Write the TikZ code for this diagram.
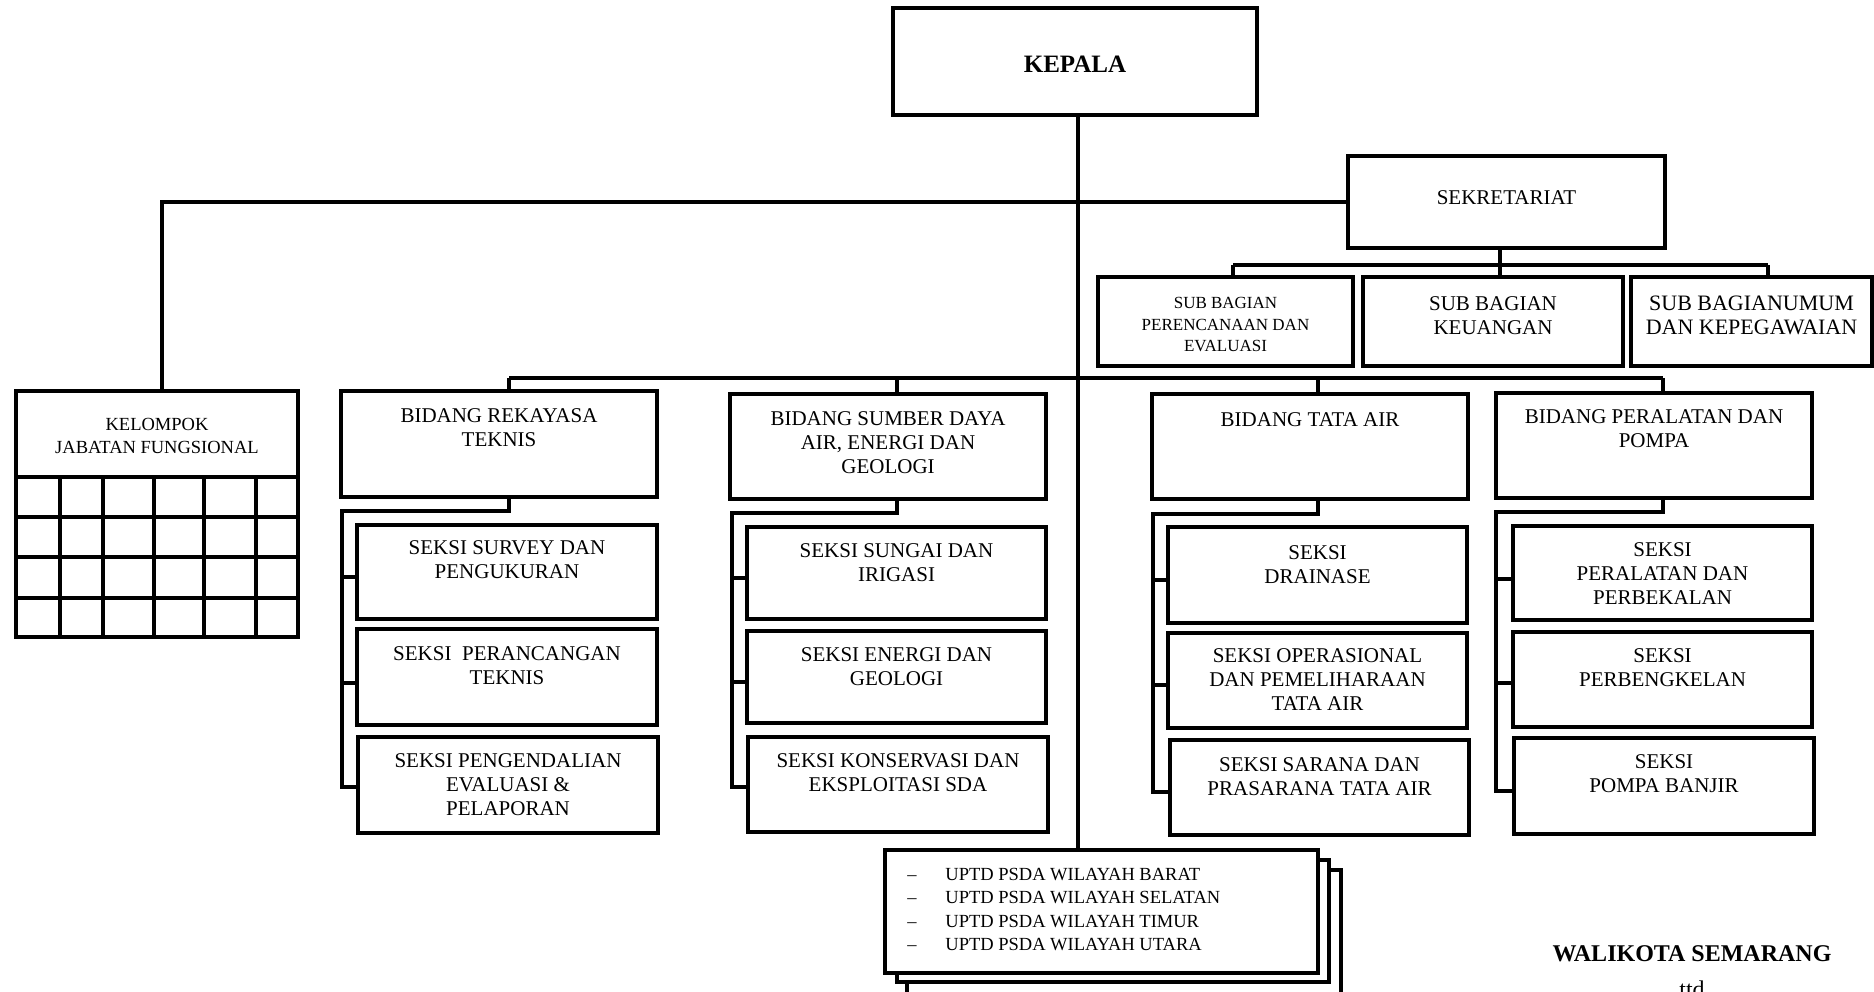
\documentclass[tikz,border=0pt]{standalone}
\usepackage{fontspec}
\setmainfont{Liberation Serif}
\newcommand\orgbox[8]{%
  \node[boxs, anchor=north west, minimum width={(#4-#2)*0.5pt}, minimum height={(#5-#3)*0.5pt}] (#1) at (#2,#3) {};
  \node[lbl, #7] (#1-t) at (#1.north |- 0,#6) {#8};}
\begin{document}
\begin{tikzpicture}[x=0.5pt,y=-0.5pt,
  boxs/.style={draw, line width=1.7pt, rectangle, inner sep=0pt, outer sep=0pt, fill=white},
  conn/.style={line width=1.7pt},
  lbl/.style={anchor=north, align=center, inner sep=0pt, font=\fontsize{10.5}{12}\selectfont},
  small/.style={font=\fontsize{8.5}{10.75}\selectfont},
  mid/.style={font=\fontsize{9.25}{11.5}\selectfont},
  big/.style={font=\fontsize{11}{12}\selectfont},
  head/.style={font=\bfseries\fontsize{12.5}{15}\selectfont},
]
\useasboundingbox (0,0) rectangle (1874,991);
\clip (0,0) rectangle (1874,991);

% top level
\orgbox{kepala}{893}{8}{1257}{115}{56}{head}{KEPALA}
\orgbox{sek}{1348}{156}{1665}{248}{190}{}{SEKRETARIAT}
\orgbox{sp}{1098}{277}{1353}{366}{297}{small}{SUB BAGIAN\\PERENCANAAN DAN\\EVALUASI}
\orgbox{sk}{1363}{277}{1623}{366}{296}{}{SUB BAGIAN\\KEUANGAN}
\orgbox{su}{1631}{277}{1872}{366}{296}{big}{SUB BAGIANUMUM\\DAN KEPEGAWAIAN}

% kelompok jabatan fungsional
\orgbox{kel}{16}{391}{298}{637}{418}{mid}{KELOMPOK\\JABATAN FUNGSIONAL}
\foreach \yy in {477,517,557,598} \draw[conn] (16,\yy) -- (298,\yy);
\foreach \xx in {60,103,154,204,256} \draw[conn] (\xx,477) -- (\xx,637);

% bidang
\orgbox{b1}{341}{391}{657}{497}{408}{}{BIDANG REKAYASA\\TEKNIS}
\orgbox{b2}{730}{394}{1046}{499}{411}{}{BIDANG SUMBER DAYA\\AIR, ENERGI DAN\\GEOLOGI}
\orgbox{b3}{1152}{394}{1468}{499}{412}{}{BIDANG TATA AIR}
\orgbox{b4}{1496}{393}{1812}{498}{409}{}{BIDANG PERALATAN DAN\\POMPA}

% seksi
\orgbox{s11}{357}{525}{657}{619}{540}{}{SEKSI SURVEY DAN\\PENGUKURAN}
\orgbox{s12}{357}{629}{657}{725}{646}{}{SEKSI\ \ PERANCANGAN\\TEKNIS}
\orgbox{s13}{358}{737}{658}{833}{753}{}{SEKSI PENGENDALIAN\\EVALUASI \&\\PELAPORAN}
\orgbox{s21}{747}{527}{1046}{619}{543}{}{SEKSI SUNGAI DAN\\IRIGASI}
\orgbox{s22}{747}{631}{1046}{723}{647}{}{SEKSI ENERGI DAN\\GEOLOGI}
\orgbox{s23}{748}{737}{1048}{832}{753}{}{SEKSI KONSERVASI DAN\\EKSPLOITASI SDA}
\orgbox{s31}{1168}{527}{1467}{623}{545}{}{SEKSI\\DRAINASE}
\orgbox{s32}{1168}{633}{1467}{728}{648}{}{SEKSI OPERASIONAL\\DAN PEMELIHARAAN\\TATA AIR}
\orgbox{s33}{1170}{740}{1469}{835}{757}{}{SEKSI SARANA DAN\\PRASARANA TATA AIR}
\orgbox{s41}{1513}{526}{1812}{620}{542}{}{SEKSI\\PERALATAN DAN\\PERBEKALAN}
\orgbox{s42}{1513}{632}{1812}{727}{648}{}{SEKSI\\PERBENGKELAN}
\orgbox{s43}{1514}{738}{1814}{834}{754}{}{SEKSI\\POMPA BANJIR}

% UPTD stacked boxes
\node[boxs, anchor=north west, minimum width={434*0.5pt}, minimum height={140*0.5pt}] (u3) at (907,870) {};
\node[boxs, anchor=north west, minimum width={432*0.5pt}, minimum height={122*0.5pt}] (u2) at (897,860) {};
\node[boxs, anchor=north west, minimum width={433*0.5pt}, minimum height={123*0.5pt}] (uptd) at (885,850) {};
\node[anchor=north west, align=left, inner sep=0pt, font=\fontsize{9.25}{11.65}\selectfont] (uptd-t) at (907,868)
  {\makebox[19pt][l]{–}UPTD PSDA WILAYAH BARAT\\
   \makebox[19pt][l]{–}UPTD PSDA WILAYAH SELATAN\\
   \makebox[19pt][l]{–}UPTD PSDA WILAYAH TIMUR\\
   \makebox[19pt][l]{–}UPTD PSDA WILAYAH UTARA};

% connectors
\coordinate (mv) at (1078,115);
\draw[conn] (mv) -- (mv |- uptd.north);
\coordinate (kj) at (162,202);
\draw[conn] (kel.north -| kj) -- (kj) -- (sek.west);

\coordinate (bl) at (509,378);
\coordinate (br) at (1663,378);
\draw[conn] (bl) -- (br);
\draw[conn] (bl) -- (bl |- b1.north);
\coordinate (bb2) at (897,378);
\coordinate (bb3) at (1318,378);
\draw[conn] (bb2) -- (bb2 |- b2.north);
\draw[conn] (bb3) -- (bb3 |- b3.north);
\draw[conn] (br) -- (br |- b4.north);

\coordinate (sj) at (1500,265);
\coordinate (sl) at (1233,265);
\coordinate (sr) at (1768,265);
\draw[conn] (sek.south -| sj) -- (sk.north -| sj);
\draw[conn] (sl) -- (sr);
\draw[conn] (sl) -- (sl |- sp.north);
\draw[conn] (sr) -- (sr |- su.north);

% group connectors
\coordinate (g1j) at (509,511); \coordinate (g1l) at (342,511);
\coordinate (g1a) at (342,577); \coordinate (g1b) at (342,683); \coordinate (g1c) at (342,787);
\draw[conn] (b1.south -| g1j) -- (g1j) -- (g1l) -- (g1c) -- (g1c -| s13.west);
\draw[conn] (g1a) -- (g1a -| s11.west);
\draw[conn] (g1b) -- (g1b -| s12.west);

\coordinate (g2j) at (897,513); \coordinate (g2l) at (732,513);
\coordinate (g2a) at (732,578); \coordinate (g2b) at (732,682); \coordinate (g2c) at (732,787);
\draw[conn] (b2.south -| g2j) -- (g2j) -- (g2l) -- (g2c) -- (g2c -| s23.west);
\draw[conn] (g2a) -- (g2a -| s21.west);
\draw[conn] (g2b) -- (g2b -| s22.west);

\coordinate (g3j) at (1318,514); \coordinate (g3l) at (1153,514);
\coordinate (g3a) at (1153,580); \coordinate (g3b) at (1153,685); \coordinate (g3c) at (1153,792);
\draw[conn] (b3.south -| g3j) -- (g3j) -- (g3l) -- (g3c) -- (g3c -| s33.west);
\draw[conn] (g3a) -- (g3a -| s31.west);
\draw[conn] (g3b) -- (g3b -| s32.west);

\coordinate (g4j) at (1663,512); \coordinate (g4l) at (1496,512);
\coordinate (g4a) at (1496,579); \coordinate (g4b) at (1496,683); \coordinate (g4c) at (1496,791);
\draw[conn] (b4.south -| g4j) -- (g4j) -- (g4l) -- (g4c) -- (g4c -| s43.west);
\draw[conn] (g4a) -- (g4a -| s41.west);
\draw[conn] (g4b) -- (g4b -| s42.west);

% signature
\node[anchor=north, inner sep=0pt, font=\bfseries\fontsize{12}{14}\selectfont] (wk) at (1692,945) {WALIKOTA SEMARANG};
\node[anchor=base, inner sep=0pt, font=\fontsize{12}{14}\selectfont] (ttd) at (1692,997) {ttd};
\end{tikzpicture}
\end{document}
